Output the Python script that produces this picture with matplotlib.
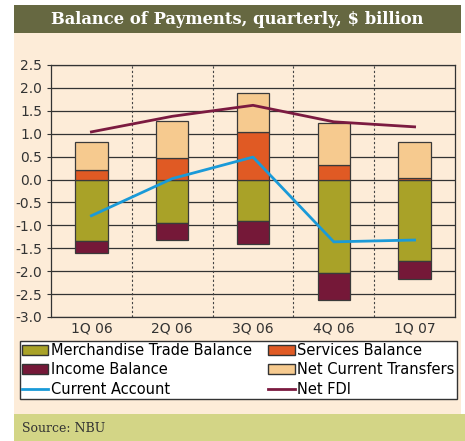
import numpy as np
import matplotlib.pyplot as plt
from matplotlib.patches import Rectangle, Patch
from matplotlib.lines import Line2D

quarters = ["1Q 06", "2Q 06", "3Q 06", "4Q 06", "1Q 07"]
merchandise = [-1.35, -0.95, -0.91, -2.03, -1.77]
income = [-0.25, -0.37, -0.50, -0.59, -0.40]
services = [0.20, 0.48, 1.03, 0.32, 0.04]
transfers = [0.63, 0.79, 0.85, 0.92, 0.79]
current_account = [-0.79, 0.02, 0.49, -1.36, -1.32]
net_fdi = [1.04, 1.38, 1.62, 1.26, 1.15]

c_merch = "#a9a228"
c_serv = "#e05a24"
c_inc = "#751838"
c_trans = "#f6ca8f"
c_ca = "#1a9ad8"
c_fdi = "#7b1a40"
cream = "#fdecd8"

W, H = 465, 441
fig = plt.figure(figsize=(W / 100, H / 100), dpi=100)
fig.patch.set_facecolor("white")

# panel backgrounds
for (x0, y0, w, h, col) in [(14, 33, 447, 381, cream),
                            (14, 5, 447, 28, "#666841"),
                            (14, 414, 451, 27, "#d3d586")]:
    fig.patches.append(Rectangle((x0 / W, 1 - (y0 + h) / H), w / W, h / H,
                                 transform=fig.transFigure, facecolor=col,
                                 edgecolor="none", zorder=-5))

fig.text(237 / W, 1 - 19 / H, "Balance of Payments, quarterly, $ billion",
         ha="center", va="center", color="white", fontsize=11.8,
         fontweight="bold", family="DejaVu Serif")
fig.text(22 / W, 1 - 428 / H, "Source: NBU", ha="left", va="center",
         color="#333333", fontsize=9, family="DejaVu Serif")

ax = fig.add_axes([51 / W, 1 - 317 / H, 404 / W, 252 / H])
ax.set_zorder(2)
ax.set_facecolor(cream)

x = np.arange(len(quarters))
bw = 0.4
edge = dict(edgecolor="#3a3a3a", linewidth=0.9, zorder=3)
ax.bar(x, merchandise, bw, color=c_merch, **edge)
ax.bar(x, income, bw, bottom=merchandise, color=c_inc, **edge)
ax.bar(x, services, bw, color=c_serv, **edge)
ax.bar(x, transfers, bw, bottom=services, color=c_trans, **edge)
ax.plot(x, current_account, color=c_ca, lw=2, zorder=4)
ax.plot(x, net_fdi, color=c_fdi, lw=2, zorder=4)

ax.set_xlim(-0.5, 4.5)
ax.set_ylim(-3.0, 2.5)
yt = np.arange(-3.0, 2.51, 0.5)
ax.set_yticks(yt)
ax.set_yticklabels([f"{v:.1f}" for v in yt])
ax.set_xticks(x)
ax.set_xticklabels(quarters)
ax.tick_params(axis="both", labelsize=10, colors="#333333", length=3,
               width=0.8)
ax.tick_params(axis="x", length=0)
ax.grid(axis="y", color="#333333", linewidth=0.9, zorder=1)
for xv in x[:-1] + 0.5:
    ax.axvline(xv, color="#444444", linestyle=(0, (2, 2)), linewidth=0.8,
               zorder=1)
ax.set_axisbelow(True)
for s in ax.spines.values():
    s.set_color("#333333")
    s.set_linewidth(0.9)

handles = [
    Patch(facecolor=c_merch, edgecolor="#333333", label="Merchandise Trade Balance"),
    Patch(facecolor=c_inc, edgecolor="#333333", label="Income Balance"),
    Line2D([], [], color=c_ca, lw=2, label="Current Account"),
    Patch(facecolor=c_serv, edgecolor="#333333", label="Services Balance"),
    Patch(facecolor=c_trans, edgecolor="#333333", label="Net Current Transfers"),
    Line2D([], [], color=c_fdi, lw=2, label="Net FDI"),
]
leg = fig.legend(handles=handles, ncol=2, loc="lower left",
                 bbox_to_anchor=(20 / W, 1 - 399 / H, 437 / W, 60 / H),
                 mode="expand", fontsize=10.5, frameon=True, fancybox=False,
                 framealpha=1, borderpad=0.15, labelspacing=0.3,
                 handlelength=1.8, handleheight=0.7, handletextpad=0.2,
                 columnspacing=1.0, borderaxespad=0)
leg.get_frame().set_edgecolor("#333333")
leg.get_frame().set_linewidth(1.0)
leg.get_frame().set_facecolor("white")

fig.savefig("out.png", dpi=100, facecolor=fig.get_facecolor())
